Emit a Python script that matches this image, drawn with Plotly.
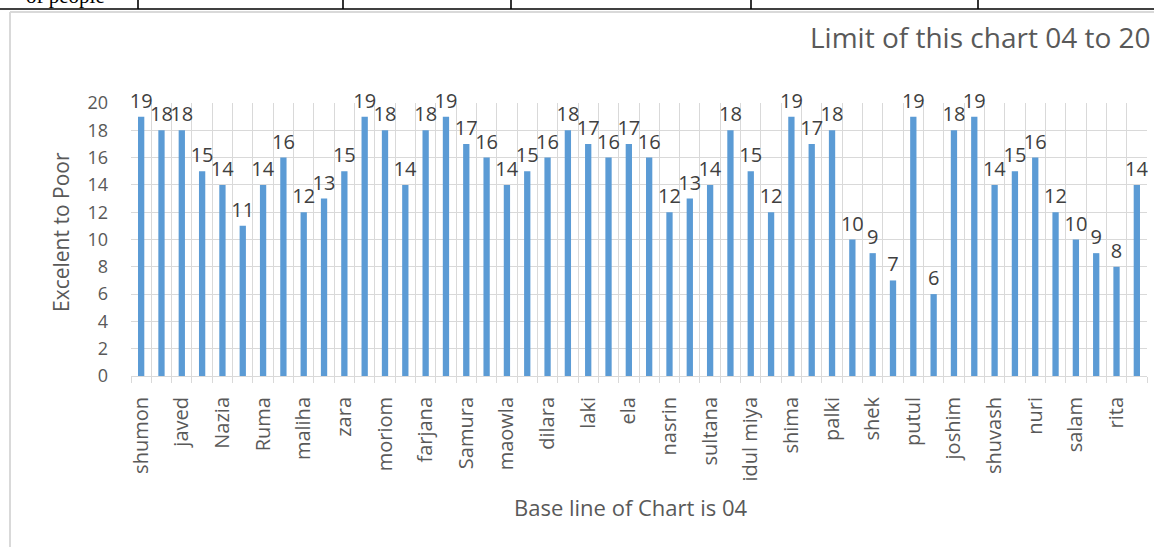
import plotly.graph_objects as go

# Scores per person (two bars per named group; only every second bar carries a name)
scores = [19, 18, 18, 15, 14, 11, 14, 16, 12, 13,
          15, 19, 18, 14, 18, 19, 17, 16, 14, 15,
          16, 18, 17, 16, 17, 16, 12, 13, 14, 18,
          15, 12, 19, 17, 18, 10, 9, 7, 19, 6,
          18, 19, 14, 15, 16, 12, 10, 9, 8, 14]

names = ["shumon", "javed", "Nazia", "Ruma", "maliha", "zara", "moriom",
         "farjana", "Samura", "maowla", "dilara", "laki", "ela", "nasrin",
         "sultana", "idul miya", "shima", "palki", "shek", "putul",
         "joshim", "shuvash", "nuri", "salam", "rita"]

y_ticks = list(range(0, 21, 2))

title_text = "Limit of this chart 04 to 20"
y_title = "Excelent to Poor"
x_title = "Base line of Chart is 04"

W, H = 1154, 547
L, R, T, B = 131, 7, 103, 171
PW, PH = W - L - R, H - T - B


def px_x(px):
    return (px - L) / PW


def px_y(py):
    return (H - B - py) / PH


FONT = "Open Sans, DejaVu Sans, sans-serif"
GRID = "#d9d9d9"
TXT = "#595959"
positions = list(range(len(scores)))

fig = go.Figure(
    go.Bar(
        x=positions,
        y=scores,
        marker=dict(color="#5b9bd5", line=dict(width=0)),
        text=[str(v) for v in scores],
        textposition="outside",
        textfont=dict(family=FONT, size=20, color="#404040"),
        constraintext="none",
        cliponaxis=False,
        hoverinfo="x+y",
    )
)

fig.update_layout(
    width=W,
    height=H,
    margin=dict(l=L, r=R, t=T, b=B, autoexpand=False),
    paper_bgcolor="white",
    plot_bgcolor="white",
    bargap=0.69,
    showlegend=False,
    font=dict(family=FONT, color=TXT),
)

fig.update_xaxes(
    range=[-0.5, len(scores) - 0.5],
    tickmode="array",
    tickvals=positions[::2],
    ticktext=names,
    tickangle=-90,
    tickfont=dict(family=FONT, size=20, color=TXT),
    ticks="",
    ticklabelstandoff=16,
    showgrid=False,
    zeroline=False,
    showline=False,
    minor=dict(
        tickmode="linear",
        tick0=-0.5,
        dtick=1,
        showgrid=True,
        gridcolor=GRID,
        gridwidth=1,
        ticks="outside",
        ticklen=6,
        tickcolor=GRID,
        tickwidth=1,
    ),
)

fig.update_yaxes(
    range=[0, 20],
    tickmode="array",
    tickvals=y_ticks,
    tickfont=dict(family=FONT, size=18, color=TXT),
    showgrid=True,
    gridcolor=GRID,
    gridwidth=1,
    zeroline=True,
    zerolinecolor=GRID,
    zerolinewidth=1,
    showline=False,
    ticks="",
    ticklabelstandoff=22,
)

shapes = []
# outer chart frame (left and top edges)
shapes.append(dict(type="line", xref="paper", yref="paper",
                   x0=px_x(10), x1=px_x(10), y0=px_y(12), y1=px_y(H),
                   line=dict(color=GRID, width=2)))
shapes.append(dict(type="line", xref="paper", yref="paper",
                   x0=px_x(10), x1=px_x(W), y0=px_y(12), y1=px_y(12),
                   line=dict(color=GRID, width=2)))
# table row above the chart
shapes.append(dict(type="line", xref="paper", yref="paper",
                   x0=px_x(0), x1=px_x(W), y0=px_y(9), y1=px_y(9),
                   line=dict(color="black", width=1.6)))
for vx in [138, 343, 511, 751, 978]:
    shapes.append(dict(type="line", xref="paper", yref="paper",
                       x0=px_x(vx), x1=px_x(vx), y0=px_y(0), y1=px_y(9),
                       line=dict(color="black", width=1.6)))

annotations = [
    dict(text=title_text, xref="paper", yref="paper",
         x=px_x(1153), y=px_y(37), xanchor="right", yanchor="middle",
         showarrow=False, font=dict(family=FONT, size=28, color=TXT)),
    dict(text=x_title, xref="paper", yref="paper",
         x=px_x(630), y=px_y(507), xanchor="center", yanchor="middle",
         showarrow=False, font=dict(family=FONT, size=22, color=TXT)),
    dict(text=y_title, xref="paper", yref="paper",
         x=px_x(61), y=px_y(232), xanchor="center", yanchor="middle",
         textangle=-90, showarrow=False, font=dict(family=FONT, size=21, color=TXT)),
    dict(text="of people", xref="paper", yref="paper",
         x=px_x(24), y=px_y(10), xanchor="left", yanchor="bottom",
         showarrow=False, font=dict(family="Liberation Serif, serif", size=21, color="black")),
]

fig.update_layout(shapes=shapes, annotations=annotations)

fig.write_html("out.html")
